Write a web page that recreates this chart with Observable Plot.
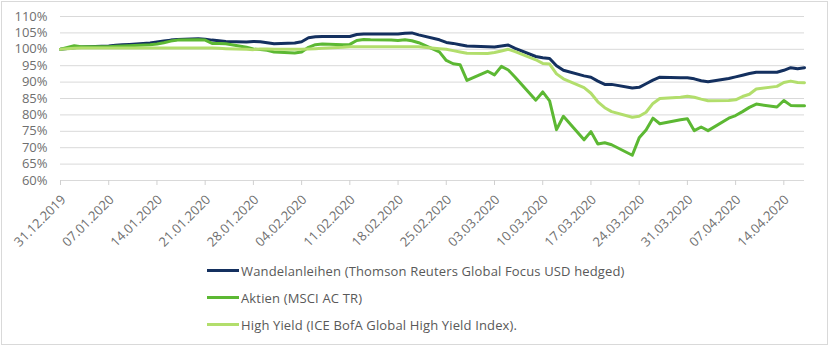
<!DOCTYPE html>
<html><head><meta charset="utf-8">
<script src="https://cdn.jsdelivr.net/npm/d3@7"></script>
<script src="https://cdn.jsdelivr.net/npm/@observablehq/plot@0.6"></script>
<style>
body{margin:0;background:#fff;font-family:"Open Sans",sans-serif;}
#wrap{position:relative;width:830px;height:351px;overflow:hidden;background:#fff;}
#frame{position:absolute;left:1px;top:1px;width:827px;height:344px;border:1px solid #d9d9d9;box-sizing:border-box;}
#chart{position:absolute;left:0;top:0;}
#legend{position:absolute;left:207px;top:257px;font-size:13px;letter-spacing:0.15px;color:#595959;}
.row{display:flex;align-items:center;height:27px;white-space:nowrap;}
.sw{width:32px;height:3px;margin-right:2px;}
</style></head>
<body>
<div id="wrap"><div id="frame"></div><div id="chart"></div><div id="legend"></div></div>
<script>
const dates = ["2019-12-31","2020-01-02","2020-01-03","2020-01-06","2020-01-07","2020-01-08","2020-01-09","2020-01-10",
"2020-01-13","2020-01-14","2020-01-15","2020-01-16","2020-01-17",
"2020-01-20","2020-01-21","2020-01-22","2020-01-23","2020-01-24",
"2020-01-27","2020-01-28","2020-01-29","2020-01-30","2020-01-31",
"2020-02-03","2020-02-04","2020-02-05","2020-02-06","2020-02-07",
"2020-02-10","2020-02-11","2020-02-12","2020-02-13","2020-02-14",
"2020-02-17","2020-02-18","2020-02-19","2020-02-20","2020-02-21",
"2020-02-24","2020-02-25","2020-02-26","2020-02-27","2020-02-28",
"2020-03-02","2020-03-03","2020-03-04","2020-03-05","2020-03-06",
"2020-03-09","2020-03-10","2020-03-11","2020-03-12","2020-03-13",
"2020-03-16","2020-03-17","2020-03-18","2020-03-19","2020-03-20",
"2020-03-23","2020-03-24","2020-03-25","2020-03-26","2020-03-27",
"2020-03-30","2020-03-31","2020-04-01","2020-04-02","2020-04-03",
"2020-04-06","2020-04-07","2020-04-08","2020-04-09","2020-04-10",
"2020-04-13","2020-04-14","2020-04-15","2020-04-16","2020-04-17"];

const wandelanleihen = [100,100.5,100.7,100.9,101.0,101.2,101.4,101.5,
101.9,102.2,102.5,102.8,103.0,
103.2,103.1,102.8,102.6,102.4,
102.2,102.4,102.3,102.0,101.7,
101.9,102.3,103.5,103.8,103.9,
103.9,103.9,104.5,104.7,104.7,
104.7,104.7,104.9,105.0,104.4,
102.9,102.1,101.8,101.4,101.0,
100.8,100.7,101.0,101.3,100.3,
97.8,97.4,97.2,95.0,93.6,
91.9,91.5,90.3,89.3,89.3,
88.2,88.4,89.5,90.6,91.5,
91.3,91.3,91.0,90.4,90.1,
91.1,91.6,92.1,92.6,93.0,
93.0,93.6,94.4,94.1,94.4];

const aktien = [100,101.1,100.8,100.8,100.8,100.9,101.0,101.1,
101.4,101.6,102.0,102.5,102.8,
102.9,102.8,101.8,101.8,101.7,
100.6,100.1,99.9,99.7,99.2,
98.9,99.2,100.6,101.4,101.6,
101.4,101.5,102.7,103.0,102.9,
102.8,102.7,102.9,102.6,102.0,
99.2,96.6,95.6,95.3,90.5,
93.3,92.2,94.8,93.7,91.5,
84.5,87.0,84.3,75.5,79.6,
72.4,74.9,71.1,71.5,70.9,
67.7,73.0,75.4,79.0,77.3,
78.5,78.8,75.2,76.3,75.2,
79.0,79.8,81.0,82.3,83.3,
82.4,84.4,82.9,82.8,82.8];

const highYield = [100,100.3,100.4,100.4,100.4,100.4,100.4,100.4,
100.4,100.4,100.4,100.4,100.4,
100.4,100.4,100.4,100.3,100.2,
100.0,99.9,100.1,100.1,100.0,
100.0,100.0,100.1,100.2,100.3,
100.6,100.8,100.8,100.8,100.8,
100.8,100.8,100.8,100.8,100.8,
100.2,100.0,99.6,99.2,98.8,
98.7,99.0,99.5,100.0,99.3,
96.8,95.7,95.5,92.5,91.0,
88.3,86.6,84.0,82.2,81.0,
79.3,79.6,80.8,83.5,85.0,
85.4,85.7,85.4,84.8,84.3,
84.4,84.6,85.6,86.3,87.9,
88.7,89.9,90.3,89.9,89.8];

const seriesNames = ["Wandelanleihen (Thomson Reuters Global Focus USD hedged)","Aktien (MSCI AC TR)","High Yield (ICE BofA Global High Yield Index)."];
const seriesColors = ["#14305f","#5cb833","#b2de6c"];
const yTicks = [60,65,70,75,80,85,90,95,100,105,110];
const xTickDates = ["2019-12-31","2020-01-07","2020-01-14","2020-01-21","2020-01-28","2020-02-04","2020-02-11","2020-02-18","2020-02-25","2020-03-03","2020-03-10","2020-03-17","2020-03-24","2020-03-31","2020-04-07","2020-04-14"];

const allValues = [wandelanleihen, aktien, highYield];
const rows = [];
allValues.forEach((vals, s) => vals.forEach((v, i) => rows.push({date: new Date(dates[i]), value: v, series: seriesNames[s]})));

const fmt = d3.utcFormat("%d.%m.%Y");
const x0 = new Date(dates[0]);
const chart = Plot.plot({
  width: 830, height: 258,
  marginLeft: 60, marginRight: 26, marginTop: 16, marginBottom: 78,
  style: {fontFamily: "'Open Sans', sans-serif", background: "transparent", color: "#6f6f6f", overflow: "visible"},
  x: {type: "utc", domain: [x0, new Date(dates[dates.length-1])], axis: null},
  y: {domain: [60, 110], axis: null},
  color: {domain: seriesNames, range: seriesColors},
  marks: [
    Plot.ruleY(yTicks, {stroke: "#d9d9d9", strokeWidth: 1}),
    Plot.text(yTicks, {x: () => x0, y: d => d, text: d => d + "%", textAnchor: "end", dx: -13, fontSize: 13, fill: "#6f6f6f"}),
    Plot.axisX({ticks: xTickDates.map(d => new Date(d)), tickFormat: () => "", tickSize: 5, stroke: "#d0d0d0", label: null}),
    Plot.text(xTickDates, {x: d => new Date(d), frameAnchor: "bottom", text: d => fmt(new Date(d)), rotate: -45, textAnchor: "end", dx: 6, dy: 20, fontSize: 13, fill: "#6f6f6f"}),
    Plot.line(rows, {x: "date", y: "value", z: "series", stroke: "series", strokeWidth: 3, curve: "linear"})
  ]
});
document.getElementById("chart").appendChild(chart);

const legend = document.getElementById("legend");
seriesNames.forEach((n, i) => {
  const r = document.createElement("div"); r.className = "row";
  const sw = document.createElement("span"); sw.className = "sw"; sw.style.background = seriesColors[i];
  const t = document.createElement("span"); t.textContent = n;
  r.appendChild(sw); r.appendChild(t); legend.appendChild(r);
});
</script>
</body></html>
